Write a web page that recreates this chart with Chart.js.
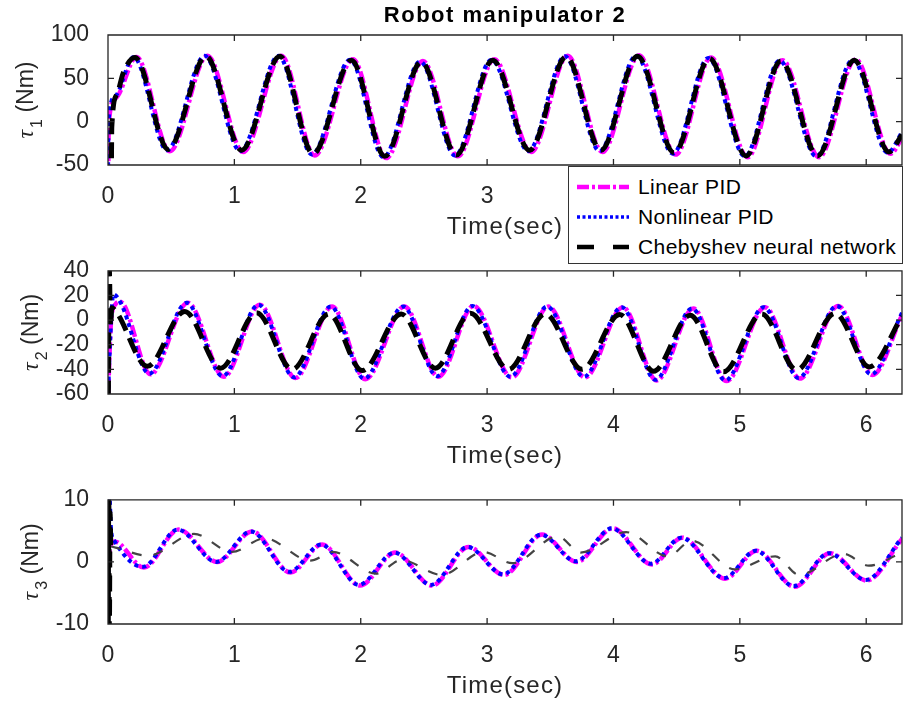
<!DOCTYPE html>
<html>
<head>
<meta charset="utf-8">
<script src="https://cdn.jsdelivr.net/npm/chart.js@4.4.0/dist/chart.umd.min.js"></script>
<style>
  body { margin: 0; background: #fff; width: 904px; height: 708px; position: relative; overflow: hidden; }
  canvas { position: absolute; left: 0; }
  #legend { position: absolute; left: 568px; top: 166px; width: 333px; height: 96px; border: 1.5px solid #333; background: #fff; z-index: 5; font-family: 'Liberation Sans', Arial, sans-serif; font-size: 21px; letter-spacing: 0.4px; color: #000; }
  #legend svg { position: absolute; left: 0; top: 0; }
  #legend span { position: absolute; left: 69px; line-height: 24px; white-space: nowrap; }
</style>
</head>
<body>
<canvas id="c1" width="904" height="246" style="top:0"></canvas>
<canvas id="c2" width="904" height="229" style="top:246px"></canvas>
<canvas id="c3" width="904" height="230" style="top:475px"></canvas>
<div id="legend">
  <svg width="70" height="96">
    <line x1="8" y1="20" x2="60" y2="20" stroke="#ff00ff" stroke-width="4.5" stroke-dasharray="12 3 3 3"/>
    <line x1="8" y1="50" x2="60" y2="50" stroke="#0000ff" stroke-width="3.5" stroke-dasharray="3 2.5"/>
    <line x1="8" y1="80" x2="60" y2="80" stroke="#000" stroke-width="4.5" stroke-dasharray="17 19"/>
  </svg>
  <span style="top:8px">Linear PID</span>
  <span style="top:38px">Nonlinear PID</span>
  <span style="top:68px">Chebyshev neural network</span>
</div>
<script>
// ---- data (time in s, torque in Nm) ----
const xTicks = [0, 1, 2, 3, 4, 5, 6];
const yTicks1 = [-50, 0, 50, 100];
const yTicks2 = [-60, -40, -20, 0, 20, 40];
const yTicks3 = [-10, 0, 10];

// tau1
const tLin1 = [0.002, 0.006, 0.06, 0.225, 0.489, 0.787, 1.069, 1.372, 1.635, 1.938, 2.202, 2.492, 2.768, 3.057, 3.348, 3.638, 3.912, 4.202, 4.492, 4.772, 5.062, 5.337, 5.627, 5.917, 6.192, 6.2832];
const yLin1 = [-70, -2, 27, 74.5, -34, 76, -35, 76, -39, 72, -42, 70, -40, 72, -35, 76, -35, 76.5, -38, 74, -41, 71, -41, 72, -37, -19];
const tNon1 = [0, 0.004, 0.055, 0.203, 0.467, 0.765, 1.047, 1.35, 1.613, 1.916, 2.18, 2.47, 2.746, 3.035, 3.326, 3.616, 3.89, 4.18, 4.47, 4.75, 5.04, 5.315, 5.605, 5.895, 6.17, 6.2832];
const yNon1 = [-70, 0, 29, 74.5, -33, 76, -34, 76, -38, 71.5, -41, 69.5, -39, 71.5, -34, 75.5, -34, 76, -37, 73.5, -40, 70.5, -40, 71.5, -36, -12];
const tNet1 = [0.026, 0.03, 0.07, 0.12, 0.213, 0.477, 0.775, 1.057, 1.36, 1.623, 1.926, 2.19, 2.48, 2.756, 3.045, 3.336, 3.626, 3.9, 4.19, 4.48, 4.76, 5.05, 5.325, 5.615, 5.905, 6.18, 6.2832];
const yNet1 = [-70, -6, 31, 56, 74, -32, 75.5, -33, 75.5, -37, 71, -40, 69, -38.5, 71, -33, 75, -33, 75.5, -36, 73, -39.5, 70, -39.5, 71, -35, -15];

// tau2
const tLin2 = [0, 0.025, 0.06, 0.095, 0.337, 0.632, 0.917, 1.201, 1.483, 1.773, 2.037, 2.345, 2.615, 2.893, 3.195, 3.485, 3.775, 4.075, 4.342, 4.632, 4.895, 5.199, 5.475, 5.778, 6.05, 6.2832];
const yLin2 = [-62, 0, 13, 15, -44, 14, -46, 12.5, -47, 11, -48, 11, -46, 11.5, -46.5, 11, -46.5, 10.5, -49, 9.5, -49.5, 10.5, -47.5, 11.5, -44.5, 4];
const tNon2 = [0, 0.02, 0.042, 0.1, 0.327, 0.622, 0.907, 1.191, 1.473, 1.763, 2.027, 2.335, 2.605, 2.883, 3.185, 3.475, 3.765, 4.065, 4.332, 4.622, 4.885, 5.189, 5.465, 5.768, 6.04, 6.2832];
const yNon2 = [-62, -10, 21, 14, -43.5, 14, -45.5, 12.5, -46.5, 11, -47.5, 11, -45.5, 11.5, -46, 11, -46, 10.5, -48.5, 9.5, -49, 10.5, -47, 11.5, -44, 6];
const tNet2 = [0.003, 0.01, 0.02, 0.03, 0.07, 0.312, 0.607, 0.892, 1.176, 1.458, 1.748, 2.012, 2.32, 2.59, 2.868, 3.17, 3.46, 3.75, 4.05, 4.317, 4.607, 4.87, 5.174, 5.45, 5.753, 6.025, 6.2832];
const yNet2 = [-62, 42, -5, 10, 6, -37.5, 7, -39, 6, -40, 5, -41, 5, -39, 5.5, -40, 5, -40, 4.5, -41.5, 4, -42, 5, -40.5, 5.5, -38, 3];

// tau3
const tLin3 = [0, 0.02, 0.05, 0.284, 0.56, 0.864, 1.14, 1.444, 1.694, 1.994, 2.274, 2.564, 2.854, 3.134, 3.434, 3.709, 3.994, 4.304, 4.544, 4.884, 5.134, 5.434, 5.714, 6.004, 6.2832];
const yLin3 = [-1, 2.5, 3.3, -0.9, 5.2, 0, 4.9, -1.7, 2.8, -3.8, 1.5, -3.8, 2.4, -2.1, 4.4, 0, 5.4, -0.4, 3.9, -2.7, 1.8, -4, 1.4, -3, 3.7];
const tNon3 = [0, 0.01, 0.025, 0.05, 0.276, 0.552, 0.856, 1.132, 1.436, 1.686, 1.986, 2.266, 2.556, 2.846, 3.126, 3.426, 3.701, 3.986, 4.296, 4.536, 4.876, 5.126, 5.426, 5.706, 5.996, 6.2832];
const yNon3 = [-11, 11, 5, 3.4, -0.8, 5.2, 0, 4.9, -1.6, 2.8, -3.7, 1.5, -3.7, 2.4, -2, 4.4, 0.1, 5.4, -0.3, 3.9, -2.6, 1.8, -3.9, 1.4, -2.9, 3.9];
const tNet3a = [0.002, 0.006, 0.011, 0.016, 0.022];
const yNet3a = [-11, 11, -11, 8, 2.5];
const tNet3 = [0.022, 0.06, 0.32, 0.68, 0.98, 1.24, 1.6, 1.78, 2.12, 2.32, 2.64, 2.97, 3.2, 3.56, 3.74, 4.1, 4.43, 4.62, 4.96, 5.28, 5.47, 5.82, 6.02, 6.2832];
const yNet3 = [2.5, 2.3, 1.0, 4.5, 1.6, 3.8, 0.2, 1.6, -1.9, 0.3, -2.1, 1.6, -0.2, 4.1, 1.5, 4.8, 0.9, 3.4, -1.2, 0.9, -2.1, 1.3, -0.6, 1.5];

const FONT = "'Liberation Sans', Arial, sans-serif";
const INK = '#262626';

function pts(t, v) { return t.map((x, i) => ({ x: x, y: v[i] })); }

const lin = { borderColor: '#ff00ff', borderWidth: 4.5, borderDash: [12, 3, 3, 3], order: 2 };
const non = { borderColor: '#0000ff', borderWidth: 4, borderDash: [4, 4], order: 1 };
const net = { borderColor: '#000000', borderWidth: 5, borderDash: [16, 8], order: 0 };

function line(style, t, v) {
  return Object.assign({
    data: pts(t, v), pointRadius: 0, fill: false, clip: 0,
    cubicInterpolationMode: 'monotone'
  }, style);
}

// box with inward ticks, tex-like y label, x label and title
const boxAxes = {
  id: 'boxAxes',
  afterDatasetsDraw(chart, args, opts) {
    const { ctx, chartArea: a, scales: { x, y } } = chart;
    ctx.save();
    ctx.strokeStyle = INK;
    ctx.lineWidth = 1.3;
    ctx.beginPath();
    x.ticks.forEach(t => {
      const px = x.getPixelForValue(t.value);
      ctx.moveTo(px, a.bottom); ctx.lineTo(px, a.bottom - 6);
      ctx.moveTo(px, a.top); ctx.lineTo(px, a.top + 6);
    });
    y.ticks.forEach(t => {
      const py = y.getPixelForValue(t.value);
      ctx.moveTo(a.left, py); ctx.lineTo(a.left + 6, py);
      ctx.moveTo(a.right, py); ctx.lineTo(a.right - 6, py);
    });
    ctx.rect(a.left, a.top, a.right - a.left, a.bottom - a.top);
    ctx.stroke();

    const cx = (a.left + a.right) / 2;
    ctx.fillStyle = INK;
    ctx.textAlign = 'center';
    ctx.textBaseline = 'middle';
    ctx.letterSpacing = '1.2px';
    ctx.font = '24px ' + FONT;
    ctx.fillText('Time(sec)', cx, a.bottom + 62);
    if (opts.title) {
      ctx.fillStyle = '#000';
      ctx.letterSpacing = '1.5px';
      ctx.font = 'bold 22px ' + FONT;
      ctx.fillText(opts.title, cx, 16);
    }
    ctx.letterSpacing = '0px';

    ctx.fillStyle = INK;
    ctx.textAlign = 'left';
    ctx.textBaseline = 'alphabetic';
    ctx.translate(opts.base, (a.top + a.bottom) / 2);
    ctx.rotate(-Math.PI / 2);
    const fTau = "italic 24px 'Liberation Serif', serif";
    const fMain = '23px ' + FONT;
    const fSub = '16px ' + FONT;
    ctx.font = fTau;
    const w1 = ctx.measureText('\u03c4').width;
    ctx.font = fMain;
    const w3 = ctx.measureText(' (Nm)').width;
    ctx.font = fSub;
    const w2 = ctx.measureText(opts.sub).width;
    const x0 = -(w1 + w2 + w3 + 2) / 2;
    ctx.font = fTau;
    ctx.fillText('\u03c4', x0, 0);
    ctx.font = fSub;
    ctx.fillText(opts.sub, x0 + w1 + 2, 9);
    ctx.font = fMain;
    ctx.fillText(' (Nm)', x0 + w1 + w2 + 2, 0);
    ctx.restore();
  }
};

function makeChart(id, datasets, yMin, yMax, yTicks, sub, base, top, title) {
  new Chart(document.getElementById(id), {
    type: 'line',
    data: { datasets: datasets },
    plugins: [boxAxes],
    options: {
      responsive: false,
      animation: false,
      events: [],
      layout: { padding: { left: 0, right: 2, top: top, bottom: 0 } },
      plugins: {
        legend: { display: false },
        tooltip: { enabled: false },
        title: { display: false },
        boxAxes: { sub: sub, base: base, title: title }
      },
      scales: {
        x: {
          type: 'linear', min: 0, max: 6.2832,
          grid: { display: false }, border: { display: false },
          afterFit: s => { s.height = 81; },
          afterBuildTicks: s => { s.ticks = xTicks.map(v => ({ value: v })); },
          ticks: { color: INK, padding: 10, maxRotation: 0, autoSkip: false, font: { family: FONT, size: 23 } }
        },
        y: {
          type: 'linear', min: yMin, max: yMax,
          grid: { display: false }, border: { display: false },
          afterFit: s => { s.width = 108; },
          afterBuildTicks: s => { s.ticks = yTicks.map(v => ({ value: v })); },
          ticks: { color: INK, padding: 11, autoSkip: false, font: { family: FONT, size: 23 } }
        }
      }
    }
  });
}

makeChart('c1', [line(lin, tLin1, yLin1), line(non, tNon1, yNon1), line(net, tNet1, yNet1)],
  -50, 100, yTicks1, '1', 33, 35, 'Robot manipulator 2');
makeChart('c2', [line(lin, tLin2, yLin2), line(non, tNon2, yNon2), line(net, tNet2, yNet2)],
  -60, 40, yTicks2, '2', 38, 19.7, null);
makeChart('c3', [line(lin, tLin3, yLin3), line(non, tNon3, yNon3), line(net, tNet3a, yNet3a),
  line({ borderColor: '#444444', borderWidth: 2.2, borderDash: [10, 12], order: 0 }, tNet3, yNet3)],
  -10, 10, yTicks3, '3', 38, 20.7, null);
</script>
</body>
</html>
